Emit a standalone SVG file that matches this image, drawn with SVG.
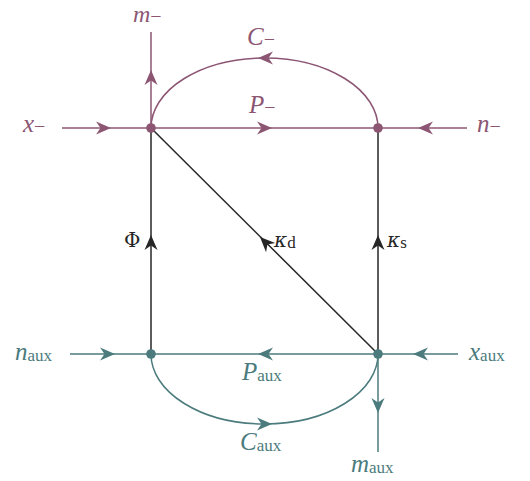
<svg xmlns="http://www.w3.org/2000/svg" width="530" height="481" viewBox="0 0 530 481">
<style>
.m{stroke:#8c5673;fill:none;stroke-width:1.5}
.t{stroke:#4b7b7d;fill:none;stroke-width:1.5}
.k{stroke:#262626;fill:none;stroke-width:1.5}
text{font-family:"Liberation Serif","DejaVu Serif",serif;font-size:25px}
.i{font-style:italic}
.g{font-family:"DejaVu Serif",serif;font-size:20px}
.sub{font-style:normal;font-size:17px;font-family:"Liberation Serif",serif}
.mn{font-style:normal;font-size:20px;font-family:"Liberation Serif",serif}
.mt{fill:#8c5673}
.tt{fill:#4b7b7d}
.kt{fill:#262626}
</style>
<defs>
<path id="ah" d="M0,0 L-15,-6.5 L-10.5,0 L-15,6.5 Z"/>
</defs>
<g id="connectors">
<line class="m" x1="62" y1="128" x2="151" y2="128"/>
<use href="#ah" fill="#8c5673" transform="translate(111,128)"/>
<line class="m" x1="378" y1="128" x2="467" y2="128"/>
<use href="#ah" fill="#8c5673" transform="translate(418,128) rotate(180)"/>
<line class="m" x1="151" y1="128" x2="151" y2="32"/>
<use href="#ah" fill="#8c5673" transform="translate(151,70) rotate(-90)"/>
<line class="m" x1="151" y1="128" x2="378" y2="128"/>
<use href="#ah" fill="#8c5673" transform="translate(272,128)"/>
<path class="m" d="M151,128 A113.5,70 0 0 1 378,128"/>
<use href="#ah" fill="#8c5673" transform="translate(258,58) rotate(180)"/>
<line class="k" x1="151" y1="128" x2="151" y2="354"/>
<use href="#ah" fill="#262626" transform="translate(151,235) rotate(-90)"/>
<line class="k" x1="378" y1="128" x2="378" y2="354"/>
<use href="#ah" fill="#262626" transform="translate(378,235) rotate(-90)"/>
<line class="k" x1="151" y1="128" x2="378" y2="354"/>
<use href="#ah" fill="#262626" transform="translate(260,237) rotate(-135.1)"/>
<line class="t" x1="70" y1="354" x2="151" y2="354"/>
<use href="#ah" fill="#4b7b7d" transform="translate(115,354)"/>
<line class="t" x1="378" y1="354" x2="458" y2="354"/>
<use href="#ah" fill="#4b7b7d" transform="translate(413,354) rotate(180)"/>
<line class="t" x1="151" y1="354" x2="378" y2="354"/>
<use href="#ah" fill="#4b7b7d" transform="translate(258,354) rotate(180)"/>
<line class="t" x1="378" y1="354" x2="378" y2="452"/>
<use href="#ah" fill="#4b7b7d" transform="translate(378,413) rotate(90)"/>
<path class="t" d="M151,354 A113.5,70 0 0 0 378,354"/>
<use href="#ah" fill="#4b7b7d" transform="translate(272,424)"/>
</g>
<g id="node-top-left"><circle cx="151" cy="128" r="4.8" fill="#8c5673"/></g>
<g id="node-top-right"><circle cx="378" cy="128" r="4.8" fill="#8c5673"/></g>
<g id="node-bottom-left"><circle cx="151" cy="354" r="4.8" fill="#4b7b7d"/></g>
<g id="node-bottom-right"><circle cx="378" cy="354" r="4.8" fill="#4b7b7d"/></g>
<g id="labels">
<text class="i mt" x="133" y="22" style="font-size:24px">m<tspan class="mn" dy="1">−</tspan></text>
<text class="i mt" x="247" y="45">C<tspan class="mn" dy="1">−</tspan></text>
<text class="i mt" x="249" y="113">P<tspan class="mn" dy="1">−</tspan></text>
<text class="i mt" x="23" y="132">x<tspan class="mn" dy="1">−</tspan></text>
<text class="i mt" x="477" y="132">n<tspan class="mn" dy="1">−</tspan></text>
<text class="g kt" x="124" y="247">Φ</text>
<text class="kt" x="274" y="247"><tspan class="g i">κ</tspan><tspan class="sub" dy="1">d</tspan></text>
<text class="kt" x="387" y="247"><tspan class="g i">κ</tspan><tspan class="sub" dy="1">s</tspan></text>
<text class="i tt" x="15" y="360">n<tspan class="sub" dy="1">aux</tspan></text>
<text class="i tt" x="469" y="360">x<tspan class="sub" dy="1">aux</tspan></text>
<text class="i tt" x="242" y="380">P<tspan class="sub" dy="1">aux</tspan></text>
<text class="i tt" x="240" y="450">C<tspan class="sub" dy="1">aux</tspan></text>
<text class="i tt" x="351" y="472">m<tspan class="sub" dy="1">aux</tspan></text>
</g>
</svg>
